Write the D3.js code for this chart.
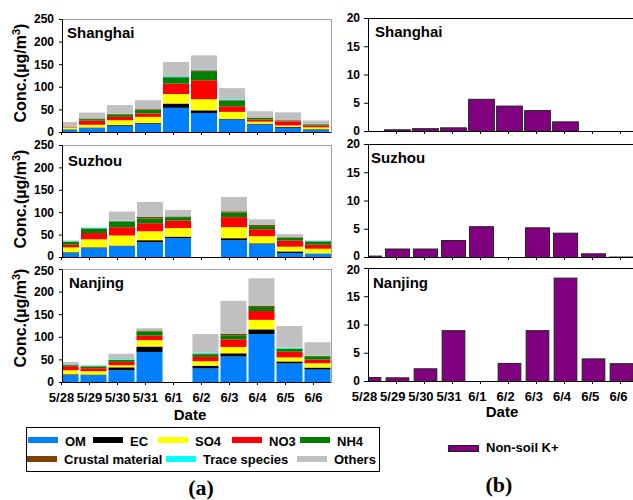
<!DOCTYPE html>
<html><head><meta charset="utf-8">
<script src="https://cdn.jsdelivr.net/npm/d3@7"></script>
<style>
body{margin:0;background:#fff}
svg{display:block}
text{font-family:"Liberation Sans",Arial,sans-serif;font-weight:bold;fill:#000}
</style>
</head><body>
<svg id="c" width="633" height="500"></svg>
<script>
// ---------- data ----------
const dates = ["5/28","5/29","5/30","5/31","6/1","6/2","6/3","6/4","6/5","6/6"];
const components = ["OM","EC","SO4","NO3","NH4","Crustal material","Trace species","Others"];
const componentColors = ["#0080ff","#000000","#ffff00","#ff0000","#008000","#804000","#00ffff","#c0c0c0"];

// Shanghai (µg/m3)
const shOM      = [5, 9, 14, 18.5, 53.5, 42, 27.5, 16.5, 9.5, 4.5];
const shEC      = [1, 1, 1.5, 1.5, 9.5, 6, 1.5, 1.5, 2, 1.5];
const shSO4     = [4, 6, 10.5, 13.5, 21, 24.5, 15.5, 5, 3, 4.5];
const shNO3     = [1, 9, 7.5, 7.5, 23, 42, 12.5, 4.5, 9, 3.5];
const shNH4     = [0.5, 3.5, 5, 7.5, 13.5, 18.5, 12, 3.5, 0.5, 2];
const shCrustal = [0.5, 1.5, 1.5, 2, 1.5, 3.5, 1.5, 1, 2, 1.5];
const shTrace   = [0.2, 0, 0.5, 0, 2, 2, 2, 0, 0, 0];
const shOthers  = [10, 13, 19, 20, 31, 31, 24.5, 14, 17.5, 8];

// Suzhou
const szOM      = [9, 19.5, 24, 33, 42, null, 37.5, 28.5, 9, 7.5];
const szEC      = [1.5, 2, 1.5, 4.5, 3.5, null, 4.5, 2, 3.5, 0.5];
const szSO4     = [11, 18, 22.5, 20, 19, null, 24.5, 16, 10.5, 10.5];
const szNO3     = [6, 14, 18.5, 18, 16.5, null, 22.5, 15.5, 13.5, 9];
const szNH4     = [6, 9, 12, 10.5, 8, null, 10, 7, 6, 6];
const szCrustal = [1, 1.5, 1.5, 4, 1.5, null, 3, 3, 1.5, 1.5];
const szTrace   = [1, 1.5, 1.5, 0, 0, null, 0, 0, 0, 1.5];
const szOthers  = [1.5, 0, 20, 33, 14.5, null, 32, 12, 7, 0.5];

// Nanjing
const njOM      = [15, 15, 26, 66.5, null, 30, 56.5, 106, 41, 27.5];
const njEC      = [2, 1.5, 6.5, 12, null, 6, 7, 10.5, 4.5, 4.5];
const njSO4     = [9, 7.5, 4.5, 14, null, 10, 14, 21, 9, 9.5];
const njNO3     = [9, 6.5, 7.5, 10, null, 9.5, 17, 19.5, 12.5, 8];
const njNH4     = [2, 3, 4.5, 9.5, null, 6, 9, 9, 7, 7.5];
const njCrustal = [1.5, 1.5, 0, 2, null, 1.5, 3.5, 3, 0, 1];
const njTrace   = [1.5, 1.5, 1.5, 0, null, 2, 0, 0, 2, 0];
const njOthers  = [4.5, 0.5, 12, 5, null, 41, 72.5, 60.5, 48, 30];

// Non-soil K+
const shK = [0, 0.3, 0.5, 0.65, 5.7, 4.5, 3.7, 1.7, 0, 0];
const szK = [0.25, 1.5, 1.5, 3.0, 5.45, null, 5.25, 4.3, 0.65, 0.08];
const njK = [0.7, 0.65, 2.25, 9.0, 0, 3.2, 9.0, 18.3, 4.0, 3.15];

const leftTicks = [0, 50, 100, 150, 200, 250];
const rightTicks = [0, 5, 10, 15, 20];

// ---------- drawing ----------
const svg = d3.select("#c");
const defs = svg.append("defs");

function styleAxis(g, size) {
  g.selectAll("path").attr("stroke", "#000");
  g.selectAll("line").attr("stroke", "#000");
  g.selectAll("text").style("font-size", size + "px").style("font-weight", "bold")
    .style("font-family", '"Liberation Sans",Arial,sans-serif').attr("fill", "#000");
}
// small nudges so stacked panels' end labels don't collide
function nudgeY(g, zeroDy, topVal, topDy) {
  g.selectAll(".tick text").attr("dy", d => {
    if (zeroDy != null && d === 0) return zeroDy + "px";
    if (topDy != null && d === topVal) return topDy + "px";
    return "0.32em";
  });
}

const leftPanels = [
  {id:"sh", title:"Shanghai", series:[shOM,shEC,shSO4,shNO3,shNH4,shCrustal,shTrace,shOthers], top:19, bottom:132, x0:50, titleX:67, titleY:38, ytY:73, labels:false, zDy:null, tDy:null},
  {id:"sz", title:"Suzhou", series:[szOM,szEC,szSO4,szNO3,szNH4,szCrustal,szTrace,szOthers], top:145, bottom:257, x0:52, titleX:68, titleY:166, ytY:199, labels:false, zDy:2.8, tDy:null},
  {id:"nj", title:"Nanjing", series:[njOM,njEC,njSO4,njNO3,njNH4,njCrustal,njTrace,njOthers], top:269, bottom:382, x0:51.5, titleX:69, titleY:288, ytY:318, labels:true, zDy:null, tDy:5.3}
];
const LX0 = 62, LX1 = 331;

leftPanels.forEach(p => {
  const table = dates.map((d, i) => {
    const row = {date: d};
    components.forEach((c, k) => row[c] = p.series[k][i] == null ? 0 : p.series[k][i]);
    return row;
  });
  const stacked = d3.stack().keys(components)(table);
  const x = d3.scaleBand().domain(dates).range([p.x0, p.x0 + 280]).paddingInner(0.07).paddingOuter(0.035);
  const y = d3.scaleLinear().domain([0, 250]).range([p.bottom, p.top]);

  defs.append("clipPath").attr("id", "clip-" + p.id)
    .append("rect").attr("x", LX0).attr("y", p.top).attr("width", LX1 - LX0).attr("height", p.bottom - p.top);

  svg.append("rect").attr("x", LX0 + 0.5).attr("y", p.top + 0.5)
    .attr("width", LX1 - LX0).attr("height", p.bottom - p.top)
    .attr("fill", "none").attr("stroke", "#a0a0a0");

  const g = svg.append("g").attr("clip-path", "url(#clip-" + p.id + ")");
  g.selectAll("g.layer").data(stacked).join("g").attr("class", "layer")
    .attr("fill", (d, k) => componentColors[k])
    .selectAll("rect").data(d => d).join("rect")
    .attr("x", d => x(d.data.date))
    .attr("width", x.bandwidth())
    .attr("y", d => y(d[1]))
    .attr("height", d => Math.max(0, y(d[0]) - y(d[1])));

  const ya = svg.append("g").attr("transform", `translate(${LX0},0)`)
    .call(d3.axisLeft(y).tickValues(leftTicks).tickSize(3).tickSizeOuter(0).tickPadding(5));
  styleAxis(ya, 12);
  nudgeY(ya, p.zDy, 250, p.tDy);

  const xp = d3.scalePoint().domain(dates).range([61, 313]);
  const xa = svg.append("g").attr("transform", `translate(0,${p.bottom})`)
    .call(d3.axisBottom(xp).tickSize(3).tickSizeOuter(0).tickPadding(8)
      .tickFormat(p.labels ? (d => d) : (() => "")));
  xa.select("path").attr("d", `M${LX0},0.5H${LX1}`);
  styleAxis(xa, 13);

  svg.append("text").attr("x", p.titleX).attr("y", p.titleY).style("font-size", "15px").text(p.title);

  const yt = svg.append("text").attr("transform", `translate(26,${p.ytY}) rotate(-90)`)
    .attr("text-anchor", "middle").style("font-size", "16px");
  yt.append("tspan").text("Conc.(µg/m");
  yt.append("tspan").attr("dy", -6).style("font-size", "11px").text("3");
  yt.append("tspan").attr("dy", 6).text(")");
});

// right panels
const rightPanels = [
  {id:"rsh", title:"Shanghai", values:shK, top:18, bottom:131, pad:0.08, titleX:375, titleY:37, labels:false, zDy:null, tDy:null},
  {id:"rsz", title:"Suzhou", values:szK, top:144, bottom:257, pad:0.14, titleX:371, titleY:163, labels:false, zDy:2.6, tDy:null},
  {id:"rnj", title:"Nanjing", values:njK, top:268, bottom:381, pad:0.19, titleX:373, titleY:288, labels:true, zDy:null, tDy:5.8}
];
const RX0 = 368, RX1 = 640;

rightPanels.forEach(p => {
  const x = d3.scaleBand().domain(dates).range([355, 635]).paddingInner(p.pad).paddingOuter(p.pad / 2);
  const y = d3.scaleLinear().domain([0, 20]).range([p.bottom, p.top]);

  defs.append("clipPath").attr("id", "clip-" + p.id)
    .append("rect").attr("x", RX0).attr("y", p.top).attr("width", RX1 - RX0).attr("height", p.bottom - p.top + 1);

  svg.append("line").attr("x1", RX0).attr("x2", RX1).attr("y1", p.top + 0.5).attr("y2", p.top + 0.5).attr("stroke", "#000");

  const rows = dates.map((d, i) => ({date: d, v: p.values[i]})).filter(r => r.v != null);
  svg.append("g").attr("clip-path", "url(#clip-" + p.id + ")")
    .selectAll("rect").data(rows).join("rect")
    .attr("x", d => x(d.date) + 0.5)
    .attr("width", x.bandwidth())
    .attr("y", d => y(d.v) + 0.5)
    .attr("height", d => Math.max(0, y(0) - y(d.v)))
    .attr("fill", "#800080").attr("stroke", "#222").attr("stroke-width", 1);

  const ya = svg.append("g").attr("transform", `translate(${RX0},0)`)
    .call(d3.axisLeft(y).tickValues(rightTicks).tickSize(4).tickSizeOuter(0).tickPadding(4));
  styleAxis(ya, 12);
  nudgeY(ya, p.zDy, 20, p.tDy);

  const xt = d3.scalePoint().domain(dates.slice(1)).range([396, 620]);
  const xa = svg.append("g").attr("transform", `translate(0,${p.bottom})`)
    .call(d3.axisBottom(xt).tickSize(3).tickSizeOuter(0).tickFormat(() => ""));
  xa.select("path").attr("d", `M${RX0},0.5H${RX1}`);
  styleAxis(xa, 13);

  if (p.labels) {
    const xl = d3.scalePoint().domain(dates).range([364, 618]);
    const la = svg.append("g").attr("transform", `translate(0,${p.bottom})`)
      .call(d3.axisBottom(xl).tickSize(0).tickPadding(11));
    la.select("path").remove();
    styleAxis(la, 13);
  }

  svg.append("text").attr("x", p.titleX).attr("y", p.titleY).style("font-size", "15px").text(p.title);
});

// axis titles
svg.append("text").attr("x", 190).attr("y", 420).attr("text-anchor", "middle").style("font-size", "15px").text("Date");
svg.append("text").attr("x", 502).attr("y", 417).attr("text-anchor", "middle").style("font-size", "15px").text("Date");

// legend (a)
svg.append("rect").attr("x", 26.5).attr("y", 427.5).attr("width", 353).attr("height", 44)
  .attr("fill", "#fff").attr("stroke", "#000");
const legendPos = [
  {sx:28, tx:65, row:0}, {sx:93, tx:130, row:0}, {sx:158, tx:195, row:0},
  {sx:232, tx:269, row:0}, {sx:300, tx:337, row:0},
  {sx:27, tx:64, row:1}, {sx:166, tx:203, row:1}, {sx:297, tx:334, row:1}
];
const lg = svg.append("g");
lg.selectAll("rect").data(components).join("rect")
  .attr("x", (d, i) => legendPos[i].sx)
  .attr("y", (d, i) => legendPos[i].row ? 456 : 437)
  .attr("width", 30).attr("height", 6)
  .attr("fill", (d, i) => componentColors[i]);
lg.selectAll("text").data(components).join("text")
  .attr("x", (d, i) => legendPos[i].tx)
  .attr("y", (d, i) => legendPos[i].row ? 464 : 446)
  .style("font-size", "13px").text(d => d);

// legend (b)
svg.append("rect").attr("x", 448.5).attr("y", 445.5).attr("width", 30).attr("height", 6)
  .attr("fill", "#800080").attr("stroke", "#222");
svg.append("text").attr("x", 486).attr("y", 452).style("font-size", "13px").text("Non-soil K+");

// panel labels
svg.append("text").attr("x", 201).attr("y", 495).attr("text-anchor", "middle")
  .style("font-family", '"Liberation Serif","Times New Roman",serif').style("font-size", "22px").text("(a)");
svg.append("text").attr("x", 499).attr("y", 492).attr("text-anchor", "middle")
  .style("font-family", '"Liberation Serif","Times New Roman",serif').style("font-size", "22px").text("(b)");
</script>
</body></html>
